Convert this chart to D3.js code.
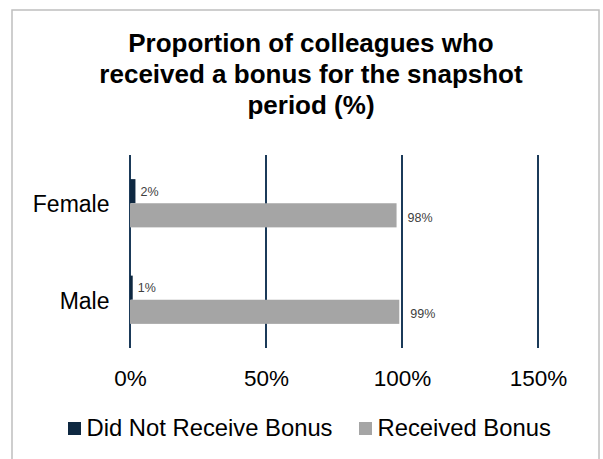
<!DOCTYPE html>
<html>
<head>
<meta charset="utf-8">
<script src="https://cdn.jsdelivr.net/npm/d3@7"></script>
<style>
  body { margin: 0; background: #fff; }
  svg text { font-family: "Liberation Sans", Arial, sans-serif; }
</style>
</head>
<body>
<div id="container"></div>
<script>
// data
const categories = ["Female", "Male"];
const seriesNames = ["Did Not Receive Bonus", "Received Bonus"];
const didNotReceive = [2, 1];
const received = [98, 99];
const xTicks = [0, 50, 100, 150];
const titleLines = ["Proportion of colleagues who", "received a bonus for the snapshot", "period (%)"];

const w = 603;
const h = 459;
const colors = ["#0E2841", "#A5A5A5"];

const svg = d3.select("#container")
  .append("svg")
  .attr("width", w)
  .attr("height", h);

// frame
svg.append("rect")
  .attr("x", 12)
  .attr("y", 10)
  .attr("width", 587)
  .attr("height", 470)
  .attr("fill", "none")
  .attr("stroke", "#BFBFBF")
  .attr("stroke-width", 1.5);

// title
svg.append("text")
  .attr("text-anchor", "middle")
  .attr("font-size", "26px")
  .attr("font-weight", "bold")
  .attr("fill", "#000")
  .selectAll("tspan")
  .data(titleLines)
  .enter()
  .append("tspan")
  .attr("x", 311)
  .attr("y", (d, i) => 52 + i * 31)
  .text(d => d);

// scales
const xScale = d3.scaleLinear()
  .domain([0, 150])
  .range([130, 538]);

const yScale = d3.scaleBand()
  .domain(categories)
  .range([155, 348])
  .paddingInner(0.5)
  .paddingOuter(0.25);

const subScale = d3.scaleBand()
  .domain(seriesNames)
  .range([0, yScale.bandwidth()]);

// gridlines
svg.append("g")
  .selectAll("line")
  .data(xTicks)
  .enter()
  .append("line")
  .attr("x1", d => xScale(d))
  .attr("x2", d => xScale(d))
  .attr("y1", 155)
  .attr("y2", 348)
  .attr("stroke", "#1B3A59")
  .attr("stroke-width", 2);

// x axis labels
const xAxis = d3.axisBottom(xScale)
  .tickValues(xTicks)
  .tickFormat(d => d + "%")
  .tickSize(0)
  .tickPadding(0);

const xg = svg.append("g")
  .attr("transform", "translate(0, 386)")
  .call(xAxis);
xg.select(".domain").remove();
xg.selectAll("text")
  .attr("dy", 0)
  .attr("font-size", "22.5px")
  .attr("font-family", null)
  .attr("fill", "#000");

// y axis labels
const yAxis = d3.axisLeft(yScale).tickSize(0).tickPadding(0);
const yg = svg.append("g")
  .attr("transform", "translate(109.5, 0)")
  .call(yAxis);
yg.select(".domain").remove();
yg.selectAll("text")
  .attr("dy", "0.38em")
  .attr("font-size", "23px")
  .attr("font-family", null)
  .attr("fill", "#000");

// bars
const rows = categories.map((c, i) => ({
  cat: c,
  vals: [
    { s: seriesNames[0], v: didNotReceive[i], k: 0 },
    { s: seriesNames[1], v: received[i], k: 1 }
  ]
}));

const groups = svg.selectAll(".row")
  .data(rows)
  .enter()
  .append("g")
  .attr("class", "row")
  .attr("transform", d => `translate(0, ${yScale(d.cat)})`);

groups.selectAll("rect")
  .data(d => d.vals)
  .enter()
  .append("rect")
  .attr("x", xScale(0))
  .attr("y", d => subScale(d.s))
  .attr("width", d => xScale(d.v) - xScale(0))
  .attr("height", subScale.bandwidth())
  .attr("fill", d => colors[d.k]);

// value labels
groups.selectAll("text")
  .data(d => d.vals)
  .enter()
  .append("text")
  .attr("x", d => xScale(d.v) + (d.k === 0 ? 5 : 11))
  .attr("y", d => subScale(d.s) + subScale.bandwidth() / 2 + (d.k === 0 ? 0 : 2))
  .attr("dy", "0.35em")
  .attr("font-size", "12.5px")
  .attr("fill", "#404040")
  .text(d => d.v + "%");

// legend
const legendX = [68, 359];
const legend = svg.append("g")
  .attr("transform", "translate(0, 422)");

legend.selectAll("rect")
  .data(seriesNames)
  .enter()
  .append("rect")
  .attr("x", (d, i) => legendX[i])
  .attr("y", 0)
  .attr("width", 13)
  .attr("height", 13)
  .attr("fill", (d, i) => colors[i]);

legend.selectAll("text")
  .data(seriesNames)
  .enter()
  .append("text")
  .attr("x", (d, i) => legendX[i] + 18.5)
  .attr("y", 14)
  .attr("font-size", "23.8px")
  .attr("fill", "#000")
  .text(d => d);
</script>
</body>
</html>
